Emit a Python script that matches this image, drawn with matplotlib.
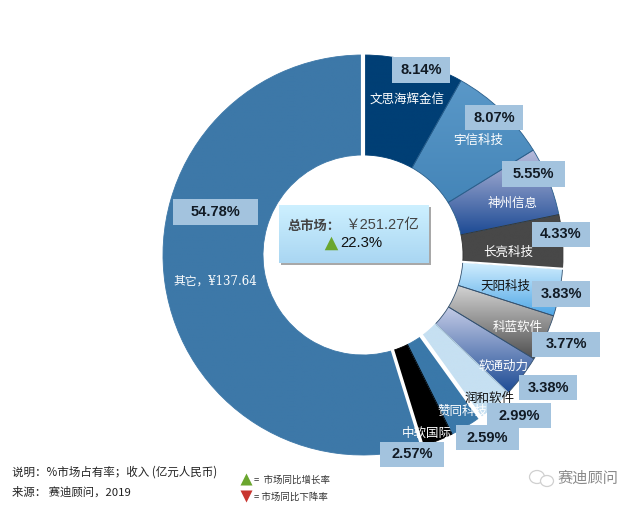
import numpy as np
import matplotlib
matplotlib.use('Agg')
import matplotlib.pyplot as plt
from matplotlib.colors import LinearSegmentedColormap
from matplotlib.patches import Rectangle, Ellipse

plt.rcParams['font.family'] = ['Noto Sans CJK SC', 'DejaVu Sans']

# data
names = ['文思海辉金信', '宇信科技', '神州信息', '长亮科技', '天阳科技', '科蓝软件',
         '软通动力', '润和软件', '赞同科技', '中软国际', '其它']
shares = [8.14, 8.07, 5.55, 4.33, 3.83, 3.77, 3.38, 2.99, 2.59, 2.57, 54.78]
other_revenue = 137.64
total_market = 251.27
total_growth = 22.3

# gradients, top to bottom
fills = [('#003f75', '#003f75'), ('#5a98c8', '#4485b8'), ('#b9bcdc', '#1c4a94'),
         ('#484848', '#484848'), ('#d5f0ff', '#4ea6e6'), ('#d4d4d4', '#4f4f4f'),
         ('#c3cbe6', '#1c4a94'), ('#c6e0f2', '#c6e0f2'), ('#3a78a9', '#3a78a9'),
         ('#000000', '#000000'), ('#3d78a8', '#3d78a8')]
edges = ['#003f75', '#2a5f8c', '#2a5f8c', '#333333', '#33506e', '#33506e',
         '#33506e', '#c6e0f2', '#3a78a9', '#000000', '#3d78a8']

# white gaps: index of the slice that ends at the gap, width
gaps = [(10, 3.0), (9, 2.5), (7, 3.0), (3, 1.5)]

# label places in pixels of the 640x507 picture (centre x, centre y)
name_pos = [(407, 99), (478, 140), (513, 203), (508, 252), (505, 286), (518, 327),
            (504, 366), (490, 398), (462, 411), (427, 433)]
name_colors = ['white', 'white', 'white', 'white', '#111111', 'white',
               'white', '#111111', 'white', 'white']
# left, top, right, bottom
box_pos = [(392, 57, 450, 83), (465, 105, 523, 130), (502, 161, 565, 187),
           (532, 222, 590, 247), (532, 281, 590, 307), (532, 332, 600, 357),
           (519, 375, 577, 400), (487, 403, 551, 428), (456, 425, 519, 450),
           (380, 442, 444, 467), (173, 199, 258, 225)]

H = 507
CX, CY = 363, 255
R_OUT, R_IN = 200, 100


def py(y):
    return H - y


fig = plt.figure(figsize=(6.4, 5.07), dpi=100)
ax = fig.add_axes([0, 0, 1, 1])

wedges, _ = ax.pie(shares, startangle=90, counterclock=False, radius=R_OUT,
                   center=(CX, py(CY)), wedgeprops={'width': R_OUT - R_IN})

# gradient fill clipped to each wedge
ramp = np.linspace(0, 1, 256).reshape(-1, 1)
for i, w in enumerate(wedges):
    bb = w.get_path().get_extents(w.get_patch_transform())
    cmap = LinearSegmentedColormap.from_list('w%d' % i, fills[i])
    im = ax.imshow(ramp, cmap=cmap, aspect='auto', zorder=1,
                   extent=(bb.x0, bb.x1, bb.y0, bb.y1))
    im.set_clip_path(w)
    w.set_facecolor('none')
    w.set_edgecolor(edges[i])
    w.set_linewidth(0.6)
    w.set_zorder(2)

# white separators between some slices
ends = np.cumsum(shares)
for idx, lw in gaps:
    a = np.pi / 2 - 2 * np.pi * ends[idx] / ends[-1]
    ax.plot([CX + (R_IN - 2) * np.cos(a), CX + (R_OUT + 2) * np.cos(a)],
            [py(CY) + (R_IN - 2) * np.sin(a), py(CY) + (R_OUT + 2) * np.sin(a)],
            color='white', lw=lw, zorder=3, solid_capstyle='butt')

ax.set_xlim(0, 640)
ax.set_ylim(0, H)
ax.set_aspect('auto')
ax.axis('off')

# names
for name, pos, c in zip(names, name_pos, name_colors):
    ax.text(pos[0], py(pos[1]), name, color=c, fontsize=9, ha='center', va='center', zorder=5)
ax.text(215, py(281), '%s，¥%.2f' % (names[-1], other_revenue), color='white', fontsize=8.5,
        ha='center', va='center', zorder=5, family=['DejaVu Serif', 'Noto Sans CJK SC'])

# percentage boxes
for s, b in zip(shares, box_pos):
    ax.add_patch(Rectangle((b[0], py(b[3])), b[2] - b[0], b[3] - b[1], fc='#a3c3de', ec='none', zorder=6))
    ax.text((b[0] + b[2]) / 2, py((b[1] + b[3]) / 2), '%.2f%%' % s, fontsize=10.5, fontweight='bold',
            color='#111a24', ha='center', va='center', zorder=7, family='Liberation Sans')

# centre box with shadow
ax.add_patch(Rectangle((281, py(265)), 150, 58, fc='#a8a8a8', ec='none', zorder=6))
ax.imshow(ramp, cmap=LinearSegmentedColormap.from_list('c', ['#cdf0ff', '#a9d6f2']), aspect='auto',
          extent=(279, 429, py(263), py(205)), zorder=7)
ax.set_xlim(0, 640)
ax.set_ylim(0, H)
ax.text(288, py(226), '总市场：', fontsize=9.5, fontweight='bold', color='#444444', ha='left', va='center', zorder=8)
ax.text(345, py(225), '￥%.2f亿' % total_market, fontsize=10.5, color='#444444', ha='left', va='center', zorder=8,
        family=['Liberation Sans', 'Noto Sans CJK SC'])
ax.scatter([331], [py(243)], marker='^', s=95, color='#6aa62e', zorder=8, linewidths=0)
ax.text(340, py(243), '%.1f%%' % total_growth, fontsize=10.7, color='#111111', ha='left', va='center', zorder=8,
        family='Liberation Sans')

# footer
ax.text(12, py(472), '说明：%市场占有率；收入 (亿元人民币)', fontsize=8.3, color='#222222', ha='left', va='center')
ax.text(12, py(492), '来源： 赛迪顾问，2019', fontsize=8.2, color='#222222', ha='left', va='center')
ax.scatter([246], [py(479)], marker='^', s=75, color='#6aa62e', linewidths=0)
ax.scatter([246], [py(496)], marker='v', s=75, color='#c8352f', linewidths=0)
ax.text(254, py(480), '=  市场同比增长率', fontsize=6.8, color='#333333', ha='left', va='center')
ax.text(254, py(497), '= 市场同比下降率', fontsize=6.8, color='#333333', ha='left', va='center')

# watermark
ax.add_patch(Ellipse((537, py(477)), 15, 13, fc='none', ec='#d0d0d0', lw=0.9))
ax.add_patch(Ellipse((547, py(481)), 13, 11, fc='white', ec='#d0d0d0', lw=0.9))
ax.text(588, py(478), '赛迪顾问', fontsize=11, color='#8a8a8a', ha='center', va='center')

fig.savefig('out.png', dpi=100)
